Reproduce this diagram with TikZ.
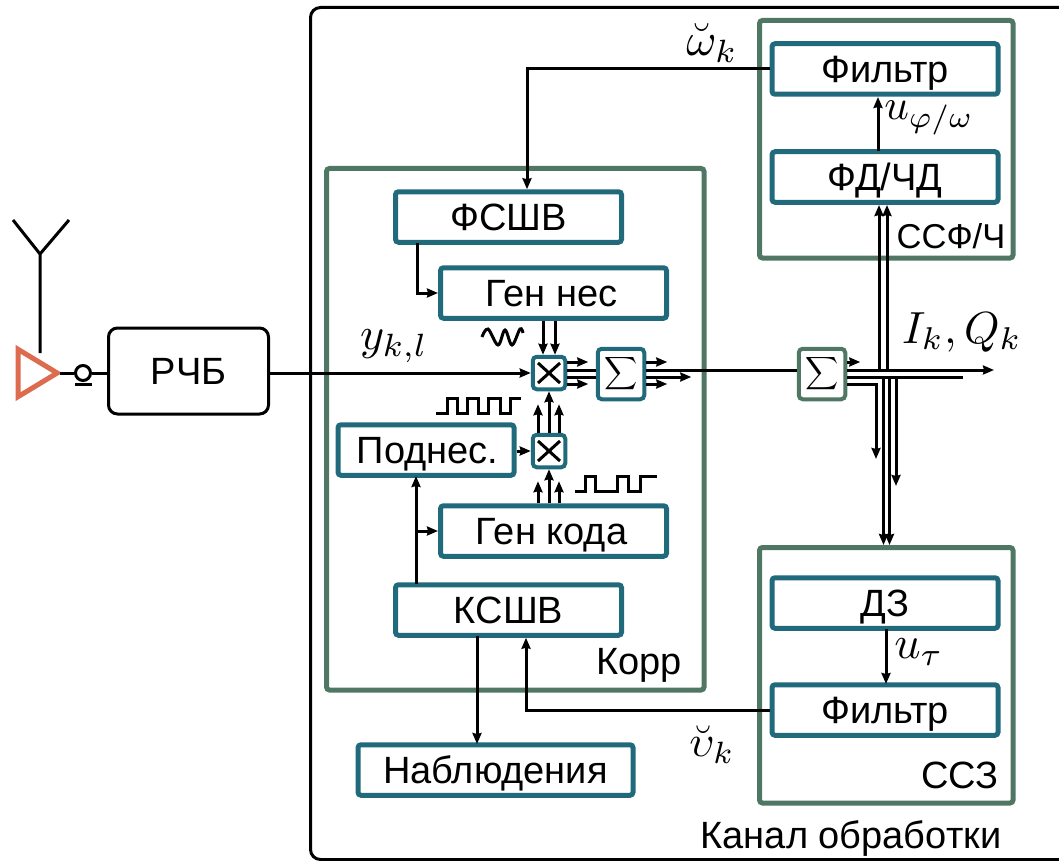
\documentclass[tikz,border=0pt]{standalone}
\usepackage{fontspec}
\setmainfont{Liberation Sans}
\usetikzlibrary{arrows.meta,calc}
\definecolor{teal}{HTML}{206A7C}
\definecolor{grn}{HTML}{4F7763}
\definecolor{org}{HTML}{DD6B4D}
\newcommand{\mth}[2]{\scalebox{#1}{$#2$}}
\tikzset{
  x=1pt,y=-1pt,
  tbox/.style={draw=teal,line width=5pt,rounded corners=3pt,inner sep=0pt,minimum width=#1,minimum height=50.5pt,text height=30pt,text depth=3pt,font=\fontsize{38}{40}\selectfont},
  tbox/.default=226pt,
  gbox/.style={draw=grn,line width=5pt,rounded corners=3pt},
  smallbox/.style={draw=teal,line width=4pt,rounded corners=4pt,inner sep=0pt,minimum width=32.5pt,minimum height=32.5pt},
  sumbox/.style={draw=#1,line width=4pt,rounded corners=4pt,inner sep=0pt,minimum width=46.5pt,minimum height=50.5pt},
  lbl/.style={inner sep=0pt,font=\fontsize{38}{40}\selectfont},
  mlbl/.style={inner sep=0pt},
  ln/.style={line width=3pt},
  arr/.style={line width=3pt,-{Stealth[length=11pt,width=9pt,inset=1pt]}},
  wave/.style={line width=3pt},
}
\begin{document}
\begin{tikzpicture}
\useasboundingbox (0,0) rectangle (1059,861);
% outer frame
\begin{scope}
\clip (0,0) rectangle (1059,861);
\draw[line width=3pt,rounded corners=10pt] (1075,7.5) -- (310.5,7.5) -- (310.5,859.5) -- (1075,859.5);
\end{scope}
% green groups
\draw[gbox] (326.5,168.5) rectangle (704,690);
\draw[gbox] (759.5,20.5) rectangle (1013,258);
\draw[gbox] (759.5,547.5) rectangle (1013,803);
% boxes
\node[tbox] (filt1) at (885,69) {Фильтр};
\node[tbox] (fd) at (885,177) {ФД/ЧД};
\node[tbox] (fssv) at (508.5,217) {ФСШВ};
\node[tbox] (gennes) at (553.5,293) {\hspace{-4pt}Ген нес};
\node[tbox=176pt] (podn) at (426,450) {\hspace{3pt}Поднес.};
\node[tbox] (genkod) at (553.5,531) {\hspace{-4pt}Ген кода};
\node[tbox] (kssv) at (508.5,610) {КСШВ};
\node[tbox=275pt] (nabl) at (495.5,770) {Наблюдения};
\node[tbox] (dz) at (885,603) {ДЗ};
\node[tbox] (filt2) at (885,710) {Фильтр};
\node[draw=black,line width=3pt,rounded corners=9pt,inner sep=0pt,minimum width=160pt,minimum height=86pt,text height=30pt,text depth=3pt,font=\fontsize{38}{40}\selectfont] (rchb) at (188.5,371) {РЧБ};
\node[smallbox] (mul1) at (549,373) {};
\node[smallbox] (mul2) at (549,451) {};
\node[sumbox=teal] (sum1) at (621,374) {\mth{2.3}{\displaystyle\sum}};
\node[sumbox=grn] (sum2) at (822,374) {\mth{2.3}{\displaystyle\sum}};
% crosses
\foreach \m in {mul1,mul2}{
  \draw[line width=3pt] ([shift={(-11,-10)}]\m.center) -- ([shift={(11,10)}]\m.center);
  \draw[line width=3pt] ([shift={(-11,10)}]\m.center) -- ([shift={(11,-10)}]\m.center);
}
% antenna and amplifier
\coordinate (antL) at (13,220);
\coordinate (antR) at (69,220);
\coordinate (antM) at (40,254);
\coordinate (antB) at (40,353);
\draw[draw=org,line width=5pt,line join=miter,miter limit=10,fill=white] (18.2,349.4) -- (57.2,373) -- (18.2,396.6) -- cycle;
\draw[line width=3pt] (antL) -- (antM) -- (antR) (antM) -- (antB);
\node[draw=black,circle,line width=3pt,inner sep=0pt,minimum size=15pt] (conn) at (83,373) {};
\coordinate (ampT) at (60,373);
\draw[ln] (ampT) -- (conn.west);
\draw[ln] (conn.east) -- (rchb.west |- conn.east);
\draw[line width=3pt] (75,384) -- (91.5,384);
% main signal
\draw[arr] (rchb.east |- mul1.west) -- (mul1.west);
% gen nes to mul
\draw[arr] ([xshift=-6pt]gennes.south -| mul1.north) -- ([xshift=-6pt]mul1.north);
\draw[arr] ([xshift=6pt]gennes.south -| mul1.north) -- ([xshift=6pt]mul1.north);
% mul2 to mul1
\draw[arr] ([xshift=-11pt]mul2.north) -- ([shift={(-11,13)}]mul1.south);
\draw[arr] (mul2.north) -- (mul1.south);
\draw[arr] ([xshift=10pt]mul2.north) -- ([shift={(10,13)}]mul1.south);
% gen kod to mul2
\draw[arr] ([xshift=-11pt]genkod.north -| mul2.south) -- ([shift={(-11,12)}]mul2.south);
\draw[arr] (genkod.north -| mul2.south) -- (mul2.south);
\draw[arr] ([xshift=10pt]genkod.north -| mul2.south) -- ([shift={(10,12)}]mul2.south);
\draw[arr] (podn.east |- mul2.west) -- (mul2.west);
% mul1 to sum1
\draw[arr] ([shift={(0,-11)}]mul1.east) -- ([shift={(21,-11)}]mul1.east);
\draw[ln] ([shift={(0,-3)}]mul1.east) -- ([shift={(0,-4)}]sum1.west);
\draw[ln] ([shift={(0,4)}]mul1.east) -- ([shift={(0,3)}]sum1.west);
\draw[arr] ([shift={(0,11)}]mul1.east) -- ([shift={(21,11)}]mul1.east);
% sum1 out
\draw[arr] ([shift={(0,-12)}]sum1.east) -- ([shift={(21,-12)}]sum1.east);
\draw[ln] ([shift={(0,-4)}]sum1.east) -- ([shift={(0,-4)}]sum2.west);
\draw[arr] ([shift={(0,3)}]sum1.east) -- ([shift={(45,3)}]sum1.east);
\draw[arr] ([shift={(0,10)}]sum1.east) -- ([shift={(21,10)}]sum1.east);
% sum2 out
\coordinate (ik) at (994,370);
\coordinate (qk) at (963,377);
\coordinate (dl) at (876,384);
\draw[arr] ([shift={(0,-12)}]sum2.east) -- ([shift={(13,-12)}]sum2.east);
\draw[arr] ([shift={(0,-4)}]sum2.east) -- (ik);
\draw[ln] ([shift={(0,3)}]sum2.east) -- (qk);
\draw[arr] ([shift={(0,10)}]sum2.east) -- (dl) -- (876,459);
% up to FD
\draw[arr] (879,370) -- (879,205);
\draw[arr] (887,370) -- (887,205);
% down
\draw[arr] (883.5,377) -- (883.5,545);
\draw[arr] (889.5,377) -- (889.5,545);
\draw[arr] (896,377) -- (896,486);
% other connectors
\draw[arr] (filt1.west) -- (527,69) -- (527,69 |- fssv.north);
\draw[arr] (filt2.west) -- (526,710) -- (526,710 |- kssv.south);
\draw[arr] (417,243) -- (417,293) -- (gennes.west);
\draw[arr] (416,584) -- (416,476);
\draw[arr] (416,531) -- (genkod.west);
\draw[arr] (477,636) -- (477,744);
\draw[arr] (878,151) -- (878,97);
\draw[arr] (886,629) -- (886,684);
% waveforms
\draw[wave] plot[smooth,tension=0.6] coordinates {(482,337) (488,329) (498,345) (505,330) (512,345) (520,329) (523,333)};
\draw[wave] (436,413) -- (447,413) -- (447,398) -- (457,398) -- (457,413) -- (467,413) -- (467,398) -- (478,398) -- (478,413) -- (488,413) -- (488,398) -- (500,398) -- (500,413) -- (510,413) -- (510,398) -- (521,398);
\draw[wave] (575,491) -- (585,491) -- (585,476) -- (595,476) -- (595,491) -- (617,491) -- (617,476) -- (628,476) -- (628,491) -- (640,491) -- (640,476) -- (657,476);
% labels
\node[mlbl] (l1) at (712,43) {\mth{4.6}{\breve\omega_k}};
\node[mlbl] (l2) at (929,118) {\mth{4.3}{u_{\varphi/\omega}}};
\node[lbl,font=\fontsize{34.5}{40}\selectfont] (l3) at (951,236) {ССФ/Ч};
\node[mlbl] (l4) at (962,332) {\mth{4.5}{I_k,Q_k}};
\node[mlbl] (l5) at (394,346) {\mth{4.6}{y_{k,l}}};
\node[lbl] (l6) at (639,665) {Корр};
\node[lbl] (l7) at (960,775) {ССЗ};
\node[lbl] (l8) at (851,838) {Канал обработки};
\node[mlbl] (l9) at (919,652) {\mth{4.6}{u_\tau}};
\node[mlbl] (l10) at (712,745) {\mth{4.4}{\breve\upsilon_k}};
\end{tikzpicture}
\end{document}
